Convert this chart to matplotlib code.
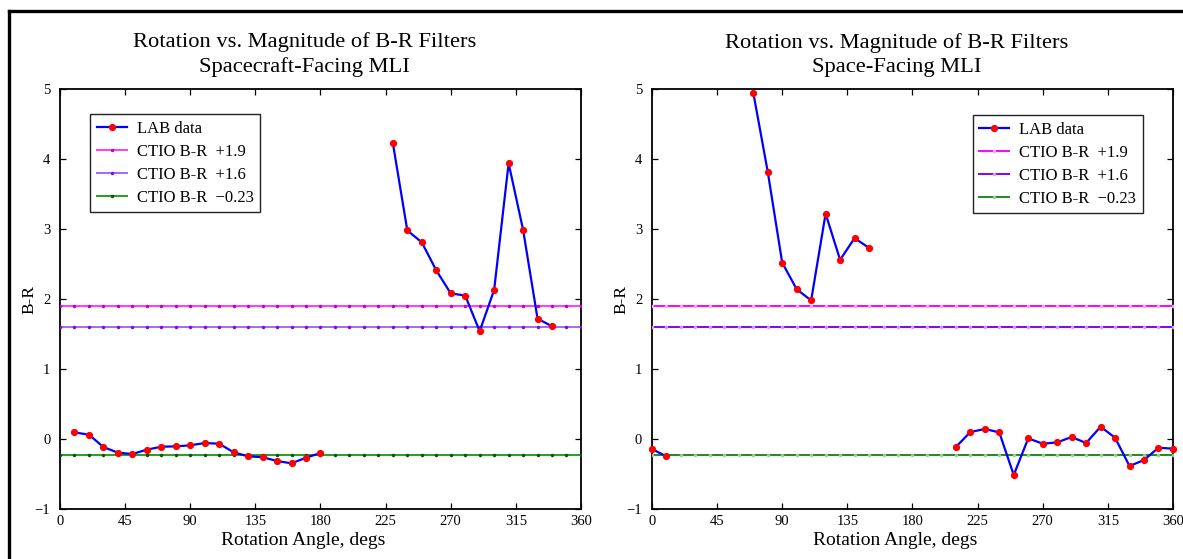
import numpy as np
import matplotlib
matplotlib.use("Agg")
import matplotlib.pyplot as plt
from matplotlib.lines import Line2D

plt.rcParams['font.family'] = 'serif'
plt.rcParams['font.serif'] = ['Liberation Serif', 'DejaVu Serif']

# LAB data, spacecraft-facing MLI (two runs)
sc_ang_a = [10, 20, 30, 40, 50, 60, 70, 80, 90, 100, 110, 120, 130, 140, 150, 160, 170, 180]
sc_br_a = [0.095, 0.062, -0.114, -0.195, -0.214, -0.152, -0.11, -0.105, -0.09, -0.057,
           -0.067, -0.19, -0.247, -0.26, -0.314, -0.347, -0.267, -0.2]
sc_ang_b = [230, 240, 250, 260, 270, 280, 290, 300, 310, 320, 330, 340]
sc_br_b = [4.23, 2.98, 2.81, 2.41, 2.08, 2.05, 1.54, 2.13, 3.94, 2.99, 1.72, 1.61]

# LAB data, space-facing MLI
sp_ang_a = [0, 10]
sp_br_a = [-0.143, -0.248]
sp_ang_b = [70, 80, 90, 100, 110, 120, 130, 140, 150]
sp_br_b = [4.95, 3.82, 2.52, 2.14, 1.98, 3.22, 2.56, 2.87, 2.73]
sp_ang_c = [210, 220, 230, 240, 250, 260, 270, 280, 290, 300, 310, 320, 330, 340, 350, 360]
sp_br_c = [-0.114, 0.1, 0.143, 0.095, -0.514, 0.01, -0.067, -0.048, 0.029, -0.057,
           0.176, 0.019, -0.386, -0.3, -0.124, -0.138]

# CTIO reference levels
ctio_vals = [1.9, 1.6, -0.23]
ctio_labels = ['CTIO B-R  +1.9', 'CTIO B-R  +1.6', 'CTIO B-R  \u22120.23']
ref_ang = np.arange(0, 361, 10)

xticks = [0, 45, 90, 135, 180, 225, 270, 315, 360]
yticks = [-1, 0, 1, 2, 3, 4, 5]

fig = plt.figure(figsize=(11.83, 5.59), dpi=100)
ax1 = fig.add_axes([0.0507, 0.0894, 0.4404, 0.7513])
ax2 = fig.add_axes([0.5511, 0.0894, 0.4404, 0.7513])

left_colors = [('#ff3cff', '#c000d0'), ('#a468f2', '#7a10e0'), ('#22a022', '#105010')]
right_colors = [('#ff00ff', '#ffa0ff'), ('#8a00f0', '#c8a0ff'), ('#1f8a1f', '#90d090')]


def draw(ax, runs, colors, subtitle, leg_loc, leg_anchor):
    first = True
    for ang, br in runs:
        ax.plot(ang, br, '-o', color='#0000ff', lw=1.6, ms=4.2, mfc='#ff0000',
                mec='#ff0000', clip_on=False, zorder=4,
                label='LAB data' if first else None)
        first = False
    for val, lab, (lc, mc) in zip(ctio_vals, ctio_labels, colors):
        ax.plot(ref_ang, np.full(len(ref_ang), val), '-', color=lc, lw=1.4,
                marker='.', ms=3, mfc=mc, mec=mc, label=lab, zorder=3)
    ax.set_xlim(0, 360)
    ax.set_ylim(-1, 5)
    ax.set_xticks(xticks)
    ax.set_yticks(yticks)
    ax.tick_params(direction='in', top=True, right=True, length=4, width=0.9,
                   labelsize=10.5)
    ax.tick_params(axis='x', pad=4)
    ax.tick_params(axis='y', pad=7)
    for s in ax.spines.values():
        s.set_linewidth(1.3)
    ax.set_xlabel('Rotation Angle, degs', fontsize=14, labelpad=3)
    ax.xaxis.label.set_x(0.467)
    ax.set_ylabel('B-R', fontsize=12.5)
    ax.yaxis.set_label_coords(-0.043, 0.5)
    t = ax.set_title('Rotation vs. Magnitude of B-R Filters\n' + subtitle,
                     fontsize=16.2, pad=12, linespacing=1.36)
    t.set_x(0.47)
    leg = ax.legend(loc=leg_loc, bbox_to_anchor=leg_anchor, borderaxespad=0,
                    fontsize=12, numpoints=1, fancybox=False, handlelength=1.8,
                    handletextpad=0.6, labelspacing=0.42, borderpad=0.4,
                    framealpha=1)
    leg.get_frame().set_edgecolor('#222222')
    leg.get_frame().set_linewidth(1.0)


draw(ax1, [(sc_ang_a, sc_br_a), (sc_ang_b, sc_br_b)], left_colors,
     'Spacecraft-Facing MLI', 'upper left', (0.0576, 0.9405))
draw(ax2, [(sp_ang_a, sp_br_a), (sp_ang_b, sp_br_b), (sp_ang_c, sp_br_c)], right_colors,
     'Space-Facing MLI', 'upper right', (0.942, 0.938))

# outer frame (top and left edges visible)
W, H = 1183.0, 559.0
fig.add_artist(Line2D([9 / W, 9 / W], [0, (H - 10.5) / H], transform=fig.transFigure,
                      color='black', lw=2.4, solid_capstyle='projecting'))
fig.add_artist(Line2D([9 / W, 1], [(H - 10.5) / H, (H - 10.5) / H],
                      transform=fig.transFigure, color='black', lw=2.4,
                      solid_capstyle='projecting'))

fig.savefig('out.png', dpi=100)
